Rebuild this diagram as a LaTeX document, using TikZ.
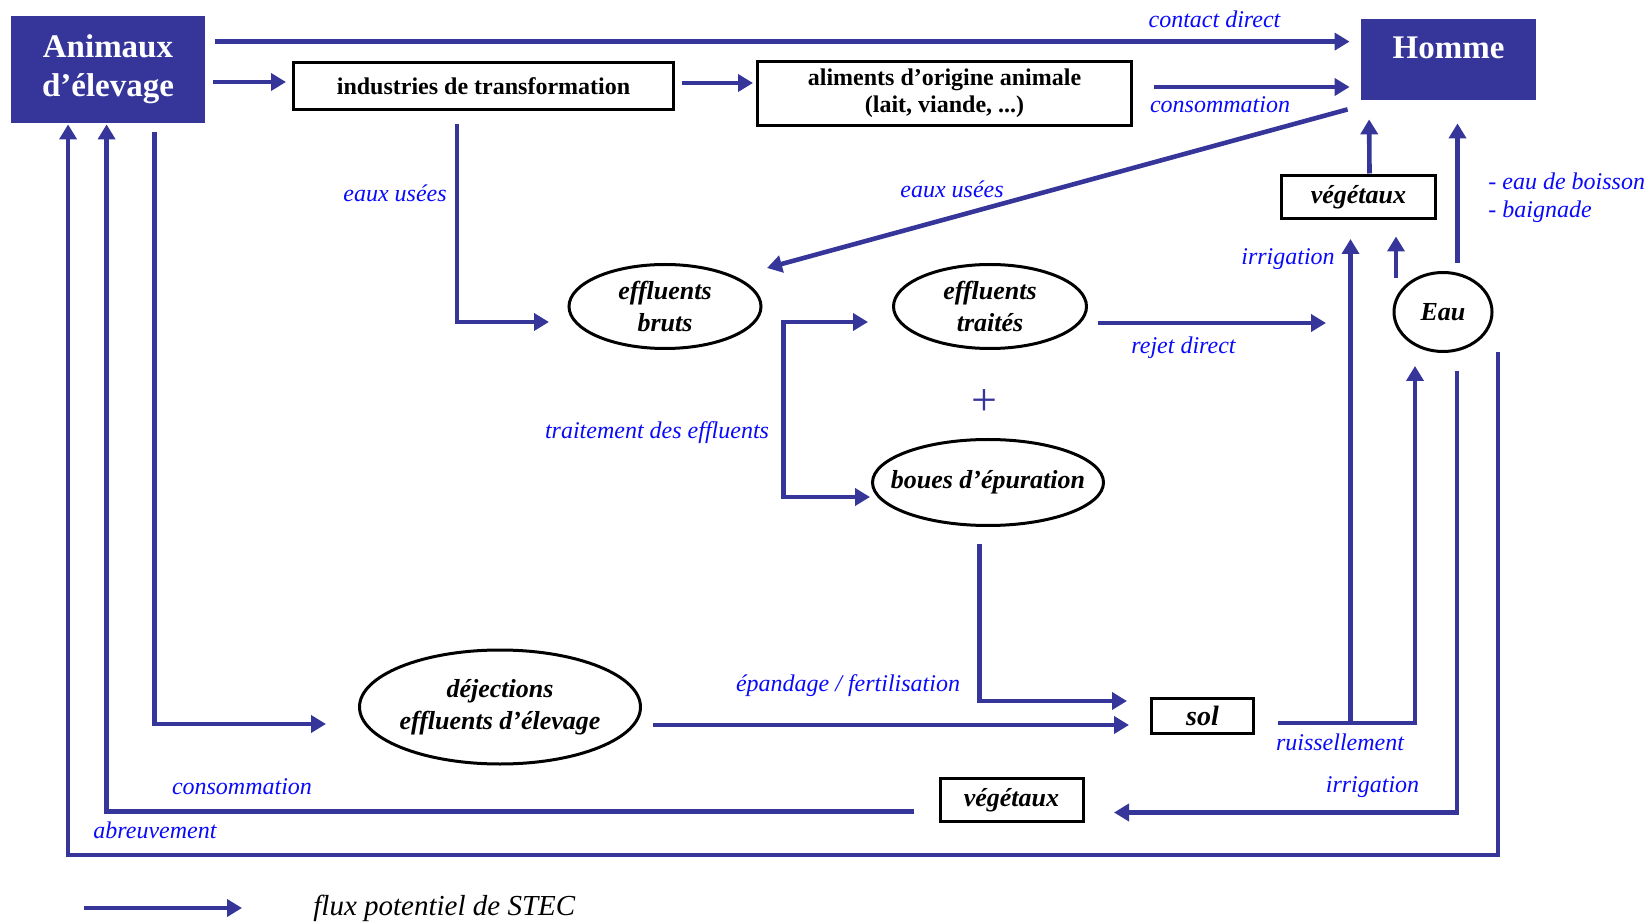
\documentclass[tikz,border=0pt]{standalone}
\usepackage{fontspec}
\setmainfont{Liberation Serif}
\usetikzlibrary{arrows.meta,positioning,shapes.geometric,calc}
\definecolor{fluxblue}{RGB}{54,54,154}
\definecolor{lblblue}{RGB}{10,10,250}

\begin{document}
\begin{tikzpicture}[x=0.5pt, y=-0.5pt, >={Triangle[length=7.5pt,width=8.5pt]},
  flux/.style={draw=fluxblue, line width=2.3pt, ->},
  dark/.style={rectangle, fill=fluxblue, text=white, align=center, inner sep=0pt,
    font=\fontsize{16.5}{19.5}\selectfont\bfseries},
  boxw/.style={rectangle, draw, line width=1.5pt, align=center, inner sep=0pt,
    font=\fontsize{12}{13.7}\selectfont\bfseries},
  ell/.style={ellipse, draw, line width=1.5pt, align=center, inner sep=0pt,
    font=\fontsize{13}{15.8}\selectfont\bfseries\itshape},
  lbl/.style={text=lblblue, inner sep=0pt, font=\fontsize{12}{14}\selectfont\itshape}]
  \useasboundingbox (0,0) rectangle (1648,924);

  % sources et cibles
  \node[dark, minimum width=97pt, minimum height=53.5pt] (anim) at (108,69.5) {Animaux\\d’élevage};
  \node[dark, minimum width=87.5pt, text height=20pt, text depth=20.5pt] (homme) at (1448.5,59.5) {Homme};
  \node[boxw, minimum width=190pt, minimum height=23.5pt] (indus) at (483.5,86) {industries de transformation};
  \node[boxw, minimum width=187pt, minimum height=32pt] (alim) at (944.5,93.5) {aliments d’origine animale\\(lait, viande, ...)};

  % effluents
  \node[ell, minimum width=96pt, minimum height=42pt] (bruts) at (665,306.5) {effluents\\bruts};
  \node[ell, minimum width=96.5pt, minimum height=42pt] (traites) at (990,306.5) {effluents\\traités};
  \node[text=fluxblue, font=\fontsize{23}{25}\selectfont] (plus) at (984,402.5) {+};
  \node[ell, minimum width=115.5pt, minimum height=43pt, inner xsep=-9pt] (boues) at (988,482.5) {boues d’épuration};
  \node[ell, minimum width=140.5pt, minimum height=57pt, inner xsep=-2pt] (dej) at (500,707) {déjections\\effluents d’élevage};

  % milieu
  \node[boxw, minimum width=77pt, minimum height=21.5pt, font=\fontsize{13}{15}\selectfont\bfseries\itshape] (vegh) at (1358.5,197.5) {végétaux};
  \node[ell, minimum width=49pt, minimum height=39.5pt] (eau) at (1443,312) {Eau};
  \node[boxw, minimum width=51pt, minimum height=17.5pt, font=\fontsize{14}{16}\selectfont\bfseries\itshape] (sol) at (1202.5,716) {sol};
  \node[boxw, minimum width=71.5pt, minimum height=21.5pt, font=\fontsize{13}{15}\selectfont\bfseries\itshape] (vegb) at (1011.5,800) {végétaux};

  % flux du haut
  \draw[flux] ($(anim.north east)+(10,26)$) -- ($(homme.north west)+(-11,23)$);
  \draw[flux] ($(anim.east)+(8,12.5)$) -- ($(indus.west)+(-6,-4)$);
  \draw[flux] ($(indus.east)+(7,-3)$) -- ($(alim.west)+(-3,-10.5)$);
  \draw[flux] ($(alim.east)+(21,-6.5)$) -- ($(homme.west)+(-11,27.5)$);
  \draw[flux] ($(homme.south west)+(-13,9)$) -- ($(bruts.center)+(102,-38.5)$);
  \draw[flux] ($(indus.south)+(-26.5,13)$) |- ($(bruts.center)+(-116,15.5)$);
  \node[lbl] (lContact) at (1214.5,19) {contact direct};
  \node[lbl] (lConsoH) at (1220,105) {consommation};
  \node[lbl] (lUseesH) at (952,189) {eaux usées};
  \node[lbl] (lUseesI) at (395,193) {eaux usées};

  % traitement
  \draw[flux, <->] ($(traites.west)+(-24,15.5)$) -| ($(bruts.east)+(21,190.5)$) -- ($(boues.west)+(-1,14.5)$);
  \draw[flux] ($(traites.east)+(10,16.5)$) -- ($(vegh.south)+(-32.5,102.5)$);
  \node[lbl] (lTrait) at (657,433) {traitement des effluents};
  \node[lbl] (lRejet) at (1183.5,348) {rejet direct};

  % eau et végétaux
  \draw[flux] ($(sol.east)+(23,7)$) -| ($(eau.south)+(-28,13)$);
  \draw[flux] ($(sol.east)+(95.5,7)$) -- ($(vegh.south)+(-8,18.5)$);
  \draw[flux] ($(eau.north)+(-47,7.5)$) -- ($(vegh.south)+(37.5,16)$);
  \draw[flux] ($(vegh.north)+(11,-1)$) -- ($(homme.south west)+(8.5,19)$);
  \draw[flux] ($(eau.north)+(14.5,-8)$) -- ($(homme.south)+(9,23)$);
  \draw[flux] ($(eau.south)+(14,18)$) |- ($(vegb.east)+(29.5,12.5)$);
  \node[lbl] (lIrrigH) at (1288,259.5) {irrigation};
  \node[lbl, anchor=west, align=left, font=\fontsize{12}{14}\selectfont\itshape] (lBoisson) at (1488,198) {- eau de boisson\\- baignade};
  \node[lbl] (lRuiss) at (1340,742) {ruissellement};
  \node[lbl] (lIrrigB) at (1372.5,787) {irrigation};

  % retours vers les animaux
  \draw[flux] ($(eau.east)+(4.5,40)$) |- ($(anim.south west)+(57.5,731.5)$) -- ($(anim.south west)+(57.5,1)$);
  \draw[flux] ($(vegb.west)+(-24.5,11.5)$) -| ($(anim.south west)+(96,1)$);
  \node[lbl] (lConsoB) at (242,787) {consommation};
  \node[lbl] (lAbreuv) at (155,830) {abreuvement};

  % déjections et sol
  \draw[flux] ($(anim.south)+(46.5,8.5)$) |- ($(dej.west)+(-32,17)$);
  \draw[flux] ($(dej.east)+(11,18)$) -- ($(sol.west)+(-21,9)$);
  \draw[flux] ($(boues.south)+(-8.5,17)$) |- ($(sol.west)+(-23,-15)$);
  \node[lbl] (lEpand) at (848,686) {épandage / fertilisation};

  % légende
  \node[anchor=west, inner sep=0pt, font=\fontsize{14.5}{16}\selectfont\itshape] (legtext) at (313,908) {flux potentiel de STEC};
  \coordinate (legA) at (84,908);
  \draw[flux] (legA) -- ($(legtext.west)+(-71,0)$);
\end{tikzpicture}
\end{document}
